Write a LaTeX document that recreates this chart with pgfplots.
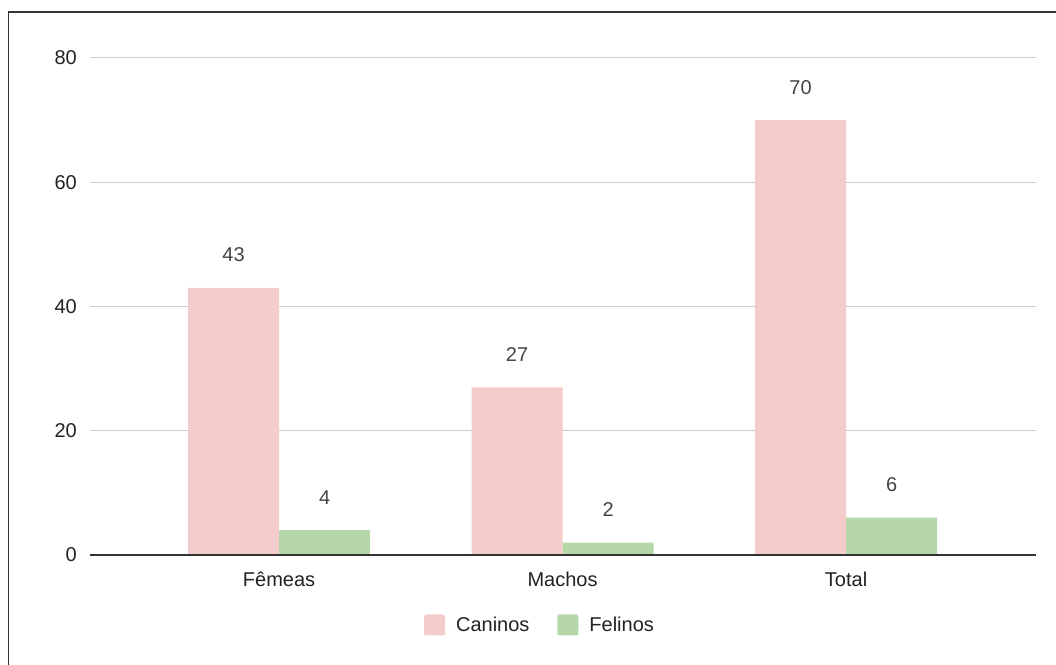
\documentclass[border=0pt]{standalone}
\usepackage{pgfplots}
\pgfplotsset{compat=1.18}
\usepackage{fontspec}
\setmainfont{Liberation Sans}
\definecolor{cpink}{HTML}{F4CCCC}
\definecolor{cgreen}{HTML}{B6D7A8}
\definecolor{cgrid}{HTML}{CCCCCC}
\definecolor{caxis}{HTML}{333333}
\definecolor{clabel}{HTML}{444444}
\definecolor{ctick}{HTML}{222222}
\begin{document}
\begin{tikzpicture}[x=1bp,y=1bp]
\path[use as bounding box] (0,0) rectangle (1056,665);
\draw[line width=1.5bp, color=caxis] (8.5,0) -- (8.5,653) -- (1056,653);
\begin{axis}[
  at={(90bp,110bp)}, anchor=south west,
  scale only axis, width=946bp, height=497bp,
  xmin=-0.667, xmax=2.67, ymin=0, ymax=80,
  ybar, bar width=91bp,
  axis line style={draw=none},
  ytick={0,20,40,60,80},
  xtick=\empty,
  ymajorgrids, grid style={cgrid, line width=1bp},
  major tick length=0pt,
  font=\fontsize{20bp}{24bp}\selectfont,
  yticklabel style={inner sep=0pt, xshift=-13bp, color=ctick},
  /pgf/number format/assume math mode=true,
  nodes near coords,
  every node near coord/.append style={anchor=center, yshift=33bp, color=clabel, font=\fontsize{20bp}{24bp}\selectfont},
  legend style={draw=none, at={(axis description cs:0.4757,-0.1408)}, anchor=center, legend columns=2,
    font=\fontsize{20bp}{24bp}\selectfont, text=ctick,
    /tikz/every even column/.append style={column sep=26bp}},
  legend image code/.code={\fill[#1, rounded corners=1.5bp] (0bp,-10.5bp) rectangle (21bp,10.5bp); \path (0bp,0bp) -- (30bp,0bp);},
  clip=false,
]
\addplot[fill=cpink, draw=none, bar shift=-45.5bp] coordinates {(0,43) (1,27) (2,70)};
\addlegendentry{Caninos}
\addplot[fill=cgreen, draw=none, bar shift=45.5bp] coordinates {(0,4) (1,2) (2,6)};
\addlegendentry{Felinos}
\draw[line width=1.5bp, color=caxis] (axis cs:-0.667,0) -- (axis cs:2.67,0);
\foreach \i/\n in {0/Fêmeas,1/Machos,2/Total} {
  \edef\tmp{\noexpand\node[anchor=base, inner sep=0pt, text=ctick, font=\noexpand\fontsize{20bp}{24bp}\noexpand\selectfont] at ([yshift=-32bp]axis cs:\i,0) {\n};}
  \tmp
}
\end{axis}
\end{tikzpicture}
\end{document}
